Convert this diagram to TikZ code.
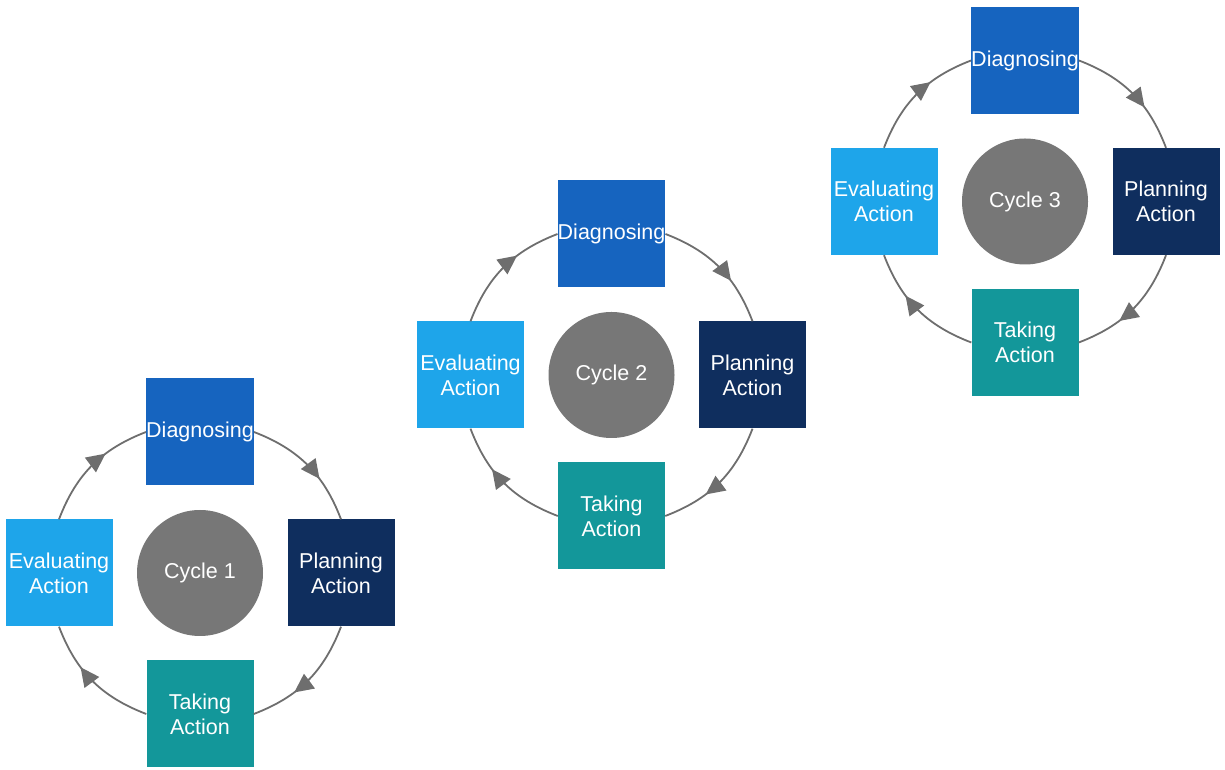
\documentclass[tikz,border=0pt]{standalone}
\usepackage{fontspec}
\setmainfont{Liberation Sans}
\usepackage{xcolor}
\usepackage{tikz}
\usetikzlibrary{arrows.meta,shapes,calc,decorations.markings}

\definecolor{diagblue}{HTML}{1664BF}
\definecolor{planblue}{HTML}{0F2E5E}
\definecolor{taketeal}{HTML}{13979A}
\definecolor{evalblue}{HTML}{1EA5EA}
\definecolor{hubgray}{HTML}{777777}
\definecolor{ringgray}{HTML}{6E6E6E}

\begin{document}
\begin{tikzpicture}[x=1pt,y=1pt]
\tikzset{stage/.style={rectangle, minimum size=107pt, inner sep=0pt, text=white, align=center,
    font=\fontsize{21.5}{25}\selectfont},
  hub/.style={circle, fill=hubgray, minimum size=126pt, inner sep=0pt, text=white,
    font=\fontsize{21.5}{25}\selectfont},
  ring/.style={draw=ringgray, line width=1.8pt, postaction={decorate},
    decoration={markings, mark=at position 0.64 with {\arrow{Triangle[length=19pt,width=18pt]}}}}}
\useasboundingbox (0,0) rectangle (1225,770);

% cycle 1
\node[hub] (c1) at (200,197) {Cycle 1};
\node[stage,fill=diagblue] (d1) at (200,338) {Diagnosing};
\node[stage,fill=planblue] (p1) at (341,197) {Planning\\Action};
\node[stage,fill=taketeal] (t1) at (200,56) {Taking\\Action};
\node[stage,fill=evalblue] (e1) at (59,197) {Evaluating\\Action};
\draw[ring] (d1.east) to[bend left=24] (p1.north);
\draw[ring] (p1.south) to[bend left=24] (t1.east);
\draw[ring] (t1.west) to[bend left=24] (e1.south);
\draw[ring] (e1.north) to[bend left=24] (d1.west);

% cycle 2
\node[hub] (c2) at (611.5,395) {Cycle 2};
\node[stage,fill=diagblue] (d2) at (611.5,536) {Diagnosing};
\node[stage,fill=planblue] (p2) at (752.5,395) {Planning\\Action};
\node[stage,fill=taketeal] (t2) at (611.5,254) {Taking\\Action};
\node[stage,fill=evalblue] (e2) at (470.5,395) {Evaluating\\Action};
\draw[ring] (d2.east) to[bend left=24] (p2.north);
\draw[ring] (p2.south) to[bend left=24] (t2.east);
\draw[ring] (t2.west) to[bend left=24] (e2.south);
\draw[ring] (e2.north) to[bend left=24] (d2.west);

% cycle 3
\node[hub] (c3) at (1025,568.5) {Cycle 3};
\node[stage,fill=diagblue] (d3) at (1025,709.5) {Diagnosing};
\node[stage,fill=planblue] (p3) at (1166,568.5) {Planning\\Action};
\node[stage,fill=taketeal] (t3) at (1025,427.5) {Taking\\Action};
\node[stage,fill=evalblue] (e3) at (884,568.5) {Evaluating\\Action};
\draw[ring] (d3.east) to[bend left=24] (p3.north);
\draw[ring] (p3.south) to[bend left=24] (t3.east);
\draw[ring] (t3.west) to[bend left=24] (e3.south);
\draw[ring] (e3.north) to[bend left=24] (d3.west);
\end{tikzpicture}
\end{document}
